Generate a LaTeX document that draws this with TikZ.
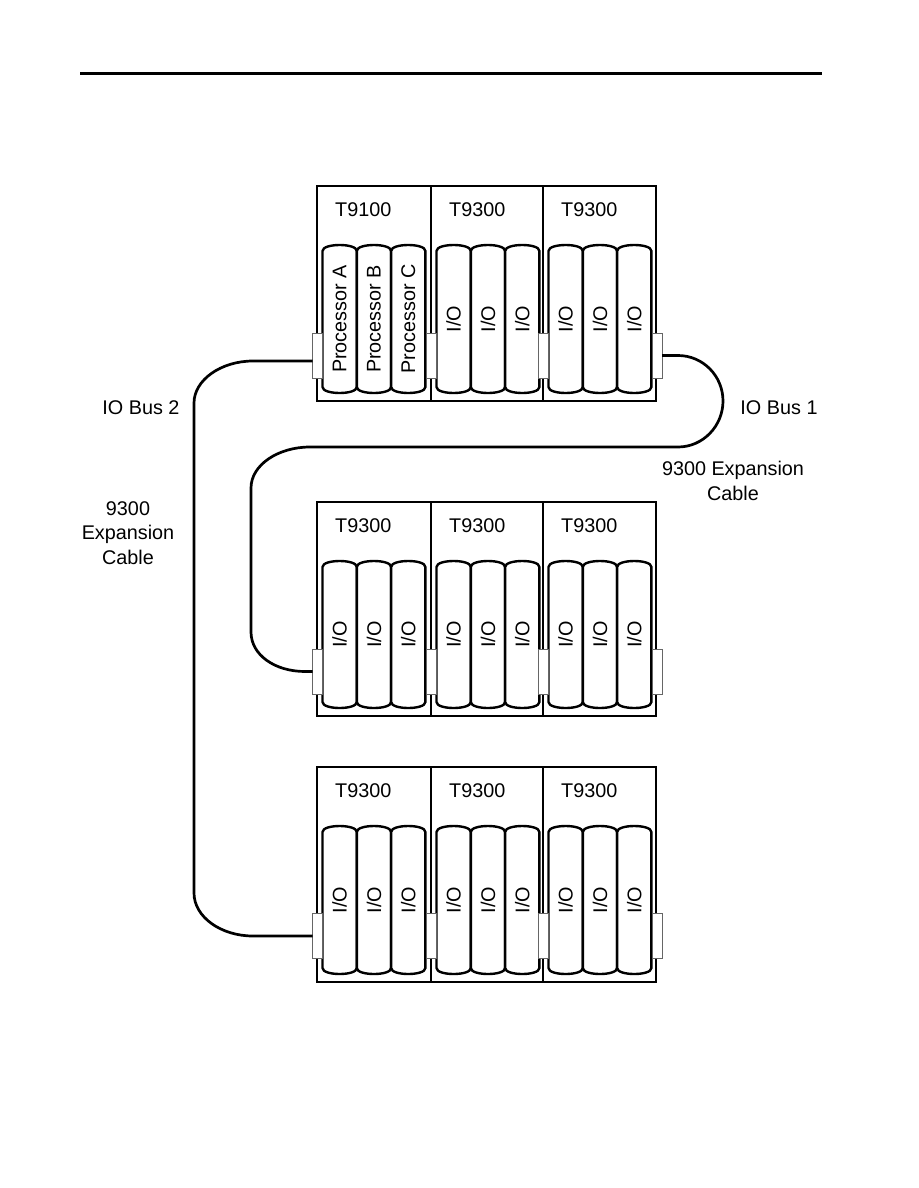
\documentclass[tikz,border=0pt]{standalone}
\usepackage{fontspec}
\setmainfont{Liberation Sans}
\usetikzlibrary{fit}
\begin{document}
\begin{tikzpicture}[x=1pt,y=-1pt,
  chassis/.style={draw, line width=2.8pt, inner sep=0pt, outer sep=0pt},
  card/.style={draw, line width=2.4pt, fill=white},
  conn/.style={draw=black!60, line width=0.8pt, fill=white, minimum width=10pt, minimum height=45pt, inner sep=0pt, outer sep=0pt},
  cable/.style={line width=2.7pt},
  lbl/.style={font=\fontsize{19.8}{24.5}\selectfont, inner sep=0pt},
  cardtxt/.style={lbl, rotate=90}]
\useasboundingbox (0,0) rectangle (918,1188);
\coordinate (ruleL) at (80,73.5);
\coordinate (ruleR) at (822,73.5);
\draw[line width=3.5pt] (ruleL) -- (ruleR);
\foreach \r/\T/\B/\cy in {1/186/401/355.5, 2/502/716/671.5, 3/767/982/936}{
  \foreach \c/\xa/\xb in {1/317/431, 2/431/543, 3/543/656}{
    \node[chassis, fit={(\xa,\T)(\xb,\B)}] (ch\r\c) {};
    \node[lbl, anchor=west] (lab\r\c) at (\xa+18,\T+23.5) {\ifnum\r\c=11 T9100\else T9300\fi};
    \foreach \k in {0,1,2}{
      \pgfmathsetmacro\ca{\xa+5.5+34.3*\k}
      \pgfmathsetmacro\cb{\ca+34.3}
      \pgfmathsetmacro\ct{\T+59}
      \pgfmathsetmacro\cu{\B-8}
      \draw[card] (\ca,\ct+6) .. controls (\ca,\ct-2) and (\cb,\ct-2) .. (\cb,\ct+6)
        -- (\cb,\cu-6) .. controls (\cb,\cu+2) and (\ca,\cu+2) .. (\ca,\cu-6) -- cycle;
      \node[cardtxt] (txt\r\c\k) at ({(\ca+\cb)/2},{(\ct+\cu)/2})
        {\ifnum\r\c=11 Processor \ifcase\k\relax A\or B\or C\fi\else I/O\fi};
    }
  }
  \foreach \j/\cx in {1/317.5, 2/431.5, 3/543.5, 4/657}{
    \node[conn] (con\r\j) at (\cx,\cy) {};
  }
}
% IO Bus 2 cable
\draw[cable] ([yshift=-5.5pt]con11.west) -- (253,361)
  .. controls (221,361) and (194,380) .. (194,403)
  -- (194,893) .. controls (194,917) and (221,936) .. (253,936) -- (con31.west);
% IO Bus 1 cable
\draw[cable] (con14.east) -- (678,355.5)
  .. controls (703,355.5) and (723,376) .. (723,401)
  .. controls (723,426) and (703,447) .. (678,447)
  -- (310,447) .. controls (278,447) and (251,465) .. (251,488)
  -- (251,632) .. controls (251,655) and (275,671.5) .. (305,671.5) -- (con21.west);
\node[lbl] (bus2) at (141,408) {IO Bus 2};
\node[lbl] (bus1) at (779,408) {IO Bus 1};
\node[lbl, align=center] (exp1) at (733,481) {9300 Expansion\\Cable};
\node[lbl, align=center] (exp2) at (128,533) {9300\\Expansion\\Cable};
\end{tikzpicture}
\end{document}
